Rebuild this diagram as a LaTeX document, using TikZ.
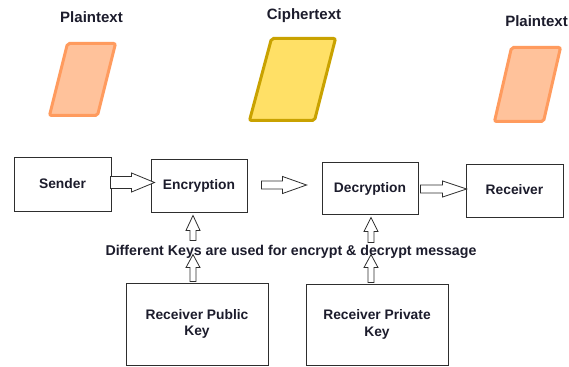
\documentclass[tikz,border=0pt]{standalone}
\usepackage{fontspec}
\setmainfont{Liberation Sans}
\usetikzlibrary{calc}
\definecolor{ptfill}{HTML}{FFC29B}
\definecolor{ptdraw}{HTML}{FF9B5E}
\definecolor{ctfill}{HTML}{FFE066}
\definecolor{ctdraw}{HTML}{C9A200}
\definecolor{txt}{HTML}{1C1C2C}
\definecolor{edge}{HTML}{2E2E2E}
\newcommand\hblock[5]{\draw[blockarrow] let \p1=(#1), \p2=(#2) in
  (\x1,\y2+#3pt) -- (\x2-#5pt,\y2+#3pt) -- (\x2-#5pt,\y2+#4pt) -- (\x2,\y2) --
  (\x2-#5pt,\y2-#4pt) -- (\x2-#5pt,\y2-#3pt) -- (\x1,\y2-#3pt) -- cycle;}
\newcommand\vblock[5]{\draw[blockarrow] let \p1=(#1), \p2=(#2) in
  (\x2+#3pt,\y1) -- (\x2+#3pt,\y2-#5pt) -- (\x2+#4pt,\y2-#5pt) -- (\x2,\y2) --
  (\x2-#4pt,\y2-#5pt) -- (\x2-#3pt,\y2-#5pt) -- (\x2-#3pt,\y1) -- cycle;}
\tikzset{
  box/.style={draw=edge, line width=0.9pt, fill=white, inner sep=0pt,
    text=txt, font=\bfseries\fontsize{13.8}{16.5}\selectfont,
    text height=9.8pt, text depth=1.8pt},
  keybox/.style={draw=edge, line width=0.9pt, fill=white, inner sep=0pt,
    text=txt, font=\bfseries\fontsize{13.8}{16.5}\selectfont, align=center},
  head/.style={text=txt, font=\bfseries\fontsize{15}{17}\selectfont, anchor=base, inner sep=0pt},
  msgtext/.style={text=txt, font=\bfseries\fontsize{14.2}{16}\selectfont, anchor=base, inner sep=0pt},
  blockarrow/.style={draw=edge, line width=0.8pt, fill=white, line join=miter},
  plainsheet/.style={draw=ptdraw, fill=ptfill, line width=3pt, rounded corners=2pt},
  ciphersheet/.style={draw=ctdraw, fill=ctfill, line width=3pt, rounded corners=2pt}
}
\begin{document}
\begin{tikzpicture}[x=1pt, y=-1pt]
\useasboundingbox[fill=white] (0,0) rectangle (569,366);
% sheets
\draw[plainsheet] (67.5,43.5) -- (115.5,43.5) -- (97.5,115.5) -- (49.5,115.5) -- cycle;
\draw[ciphersheet] (271.5,38.5) -- (335.5,38.5) -- (314.5,120.5) -- (249.5,120.5) -- cycle;
\draw[plainsheet] (511.5,47.5) -- (560.5,47.5) -- (543.5,121.5) -- (494.5,121.5) -- cycle;
% headings
\node[head] (pt1) at (91.5,23) {Plaintext};
\node[head] (ct) at (304,20) {Ciphertext};
\node[head] (pt2) at (536.5,27) {Plaintext};
% boxes
\node[box, minimum width=97pt, minimum height=54pt] (sender) at (62.5,184) {Sender};
\node[box, minimum width=96pt, minimum height=53pt] (enc) at (199,185.5) {Encryption};
\node[box, minimum width=96pt, minimum height=52pt] (dec) at (370,188) {Decryption};
\node[box, minimum width=97pt, minimum height=53pt] (rec) at (514.5,190.5) {Receiver};
\node[keybox, minimum width=142pt, minimum height=82pt] (pub) at (197,324) {Receiver Public\\Key};
\node[keybox, minimum width=142pt, minimum height=81pt] (priv) at (377,324.5) {Receiver Private\\Key};
\node[msgtext] (msg) at (291,255) {Different Keys are used for encrypt \& decrypt message};
% arrow end points
\coordinate (a1s) at ($(sender.east)+(-1,-2)$);
\coordinate (a1t) at ($(enc.west)+(4,-3)$);
\coordinate (a2s) at ($(enc.east)+(14,0)$);
\coordinate (a2t) at ($(dec.west)+(-15,-3)$);
\coordinate (a3s) at ($(dec.east)+(2,0)$);
\coordinate (a3t) at ($(rec.west)+(1,-1.5)$);
\coordinate (e1s) at ($(enc.south)+(-6,28)$);
\coordinate (e1t) at ($(enc.south)+(-6,3)$);
\coordinate (p1s) at ($(pub.north)+(-4,-1)$);
\coordinate (p1t) at ($(pub.north)+(-4,-28)$);
\coordinate (d1s) at ($(dec.south)+(1,28)$);
\coordinate (d1t) at ($(dec.south)+(1,3)$);
\coordinate (q1s) at ($(priv.north)+(-6,-1)$);
\coordinate (q1t) at ($(priv.north)+(-6,-29)$);
% block arrows
\hblock{a1s}{a1t}{6}{9.5}{23}
\hblock{a2s}{a2t}{4}{8.5}{24}
\hblock{a3s}{a3t}{4}{8}{24}
\vblock{e1s}{e1t}{3}{7}{15}
\vblock{p1s}{p1t}{3}{7}{13}
\vblock{d1s}{d1t}{3}{7}{14}
\vblock{q1s}{q1t}{3}{7}{13}
\end{tikzpicture}
\end{document}
